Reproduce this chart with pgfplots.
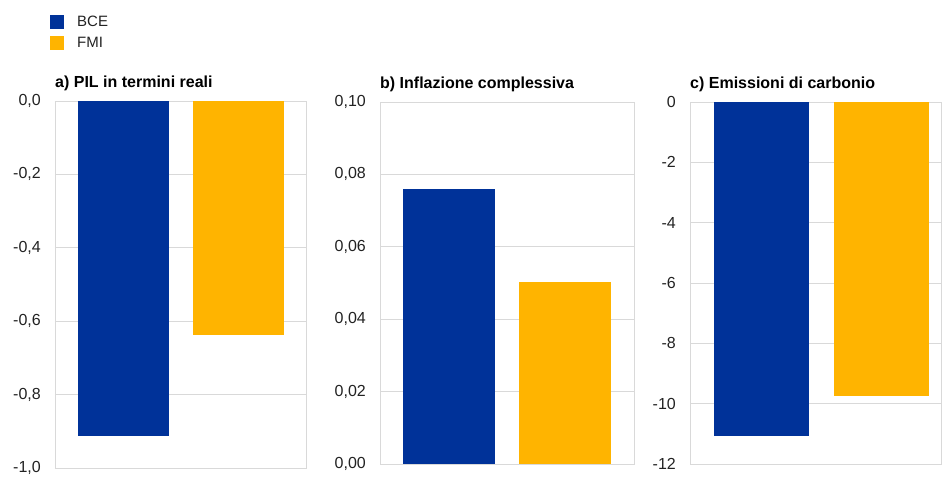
\documentclass[border=0pt]{standalone}
\usepackage{pgfplots}
\pgfplotsset{compat=1.18}
\usepackage{fontspec}
\setmainfont{Liberation Sans}
\definecolor{bce}{HTML}{003299}
\definecolor{fmi}{HTML}{FFB400}
\definecolor{gridc}{HTML}{D9D9D9}
\definecolor{tickc}{HTML}{222222}
\newcommand{\fs}{\fontsize{16}{18}\selectfont}
\pgfplotsset{panel/.style={
  scale only axis, anchor=south west,
  axis line style={draw=gridc, line width=0.8pt},
  ymajorgrids, grid style={gridc, line width=0.8pt},
  xtick=\empty, major tick length=0pt,
  yticklabel style={anchor=east, inner sep=0pt, xshift=-14pt, font=\fs, text=tickc},
  title style={at={(0,1)}, anchor=base west, inner sep=0pt, yshift=7pt, font=\bfseries\fs},
  ybar, bar shift=0pt, bar width=0.79,
}}
\begin{document}
\begin{tikzpicture}[x=1pt,y=1pt]
\useasboundingbox (0,0) rectangle (942,477);
% panel a
\begin{axis}[panel, at={(55pt,9pt)}, width=251pt, height=367pt,
  xmin=-0.596, xmax=1.587, ymin=-1, ymax=0,
  ytick={-1,-0.8,-0.6,-0.4,-0.2,0},
  yticklabels={{-1,0},{-0,8},{-0,6},{-0,4},{-0,2},{0,0}},
  title={a) PIL in termini reali},
  legend style={at={(-0.02,1.234)}, anchor=north west, draw=none, fill=none,
    font=\fontsize{15}{17}\selectfont, text=tickc, row sep=7pt, column sep=13pt,
    inner sep=0pt, nodes={inner sep=0pt}},
  legend cell align=left,
  legend image code/.code={\fill[#1] (0pt,-7pt) rectangle (14pt,7pt);},
]
\addplot[fill=bce, draw=none] coordinates {(0,-0.912)};
\addlegendentry{BCE}
\addplot[fill=fmi, draw=none] coordinates {(1,-0.638)};
\addlegendentry{FMI}
\end{axis}
% panel b
\begin{axis}[panel, at={(380pt,13pt)}, width=254pt, height=362pt,
  xmin=-0.595, xmax=1.595, ymin=0, ymax=0.1,
  ytick={0,0.02,0.04,0.06,0.08,0.1},
  yticklabels={{0,00},{0,02},{0,04},{0,06},{0,08},{0,10}},
  title={b) Inflazione complessiva},
]
\addplot[fill=bce, draw=none] coordinates {(0,0.0761)};
\addplot[fill=fmi, draw=none] coordinates {(1,0.0502)};
\end{axis}
% panel c
\begin{axis}[panel, at={(690pt,13pt)}, width=251pt, height=362pt,
  xmin=-0.596, xmax=1.496, ymin=-12, ymax=0,
  ytick={-12,-10,-8,-6,-4,-2,0},
  yticklabels={{-12},{-10},{-8},{-6},{-4},{-2},{0}},
  title={c) Emissioni di carbonio},
]
\addplot[fill=bce, draw=none] coordinates {(0,-11.08)};
\addplot[fill=fmi, draw=none] coordinates {(1,-9.74)};
\end{axis}
\end{tikzpicture}
\end{document}
